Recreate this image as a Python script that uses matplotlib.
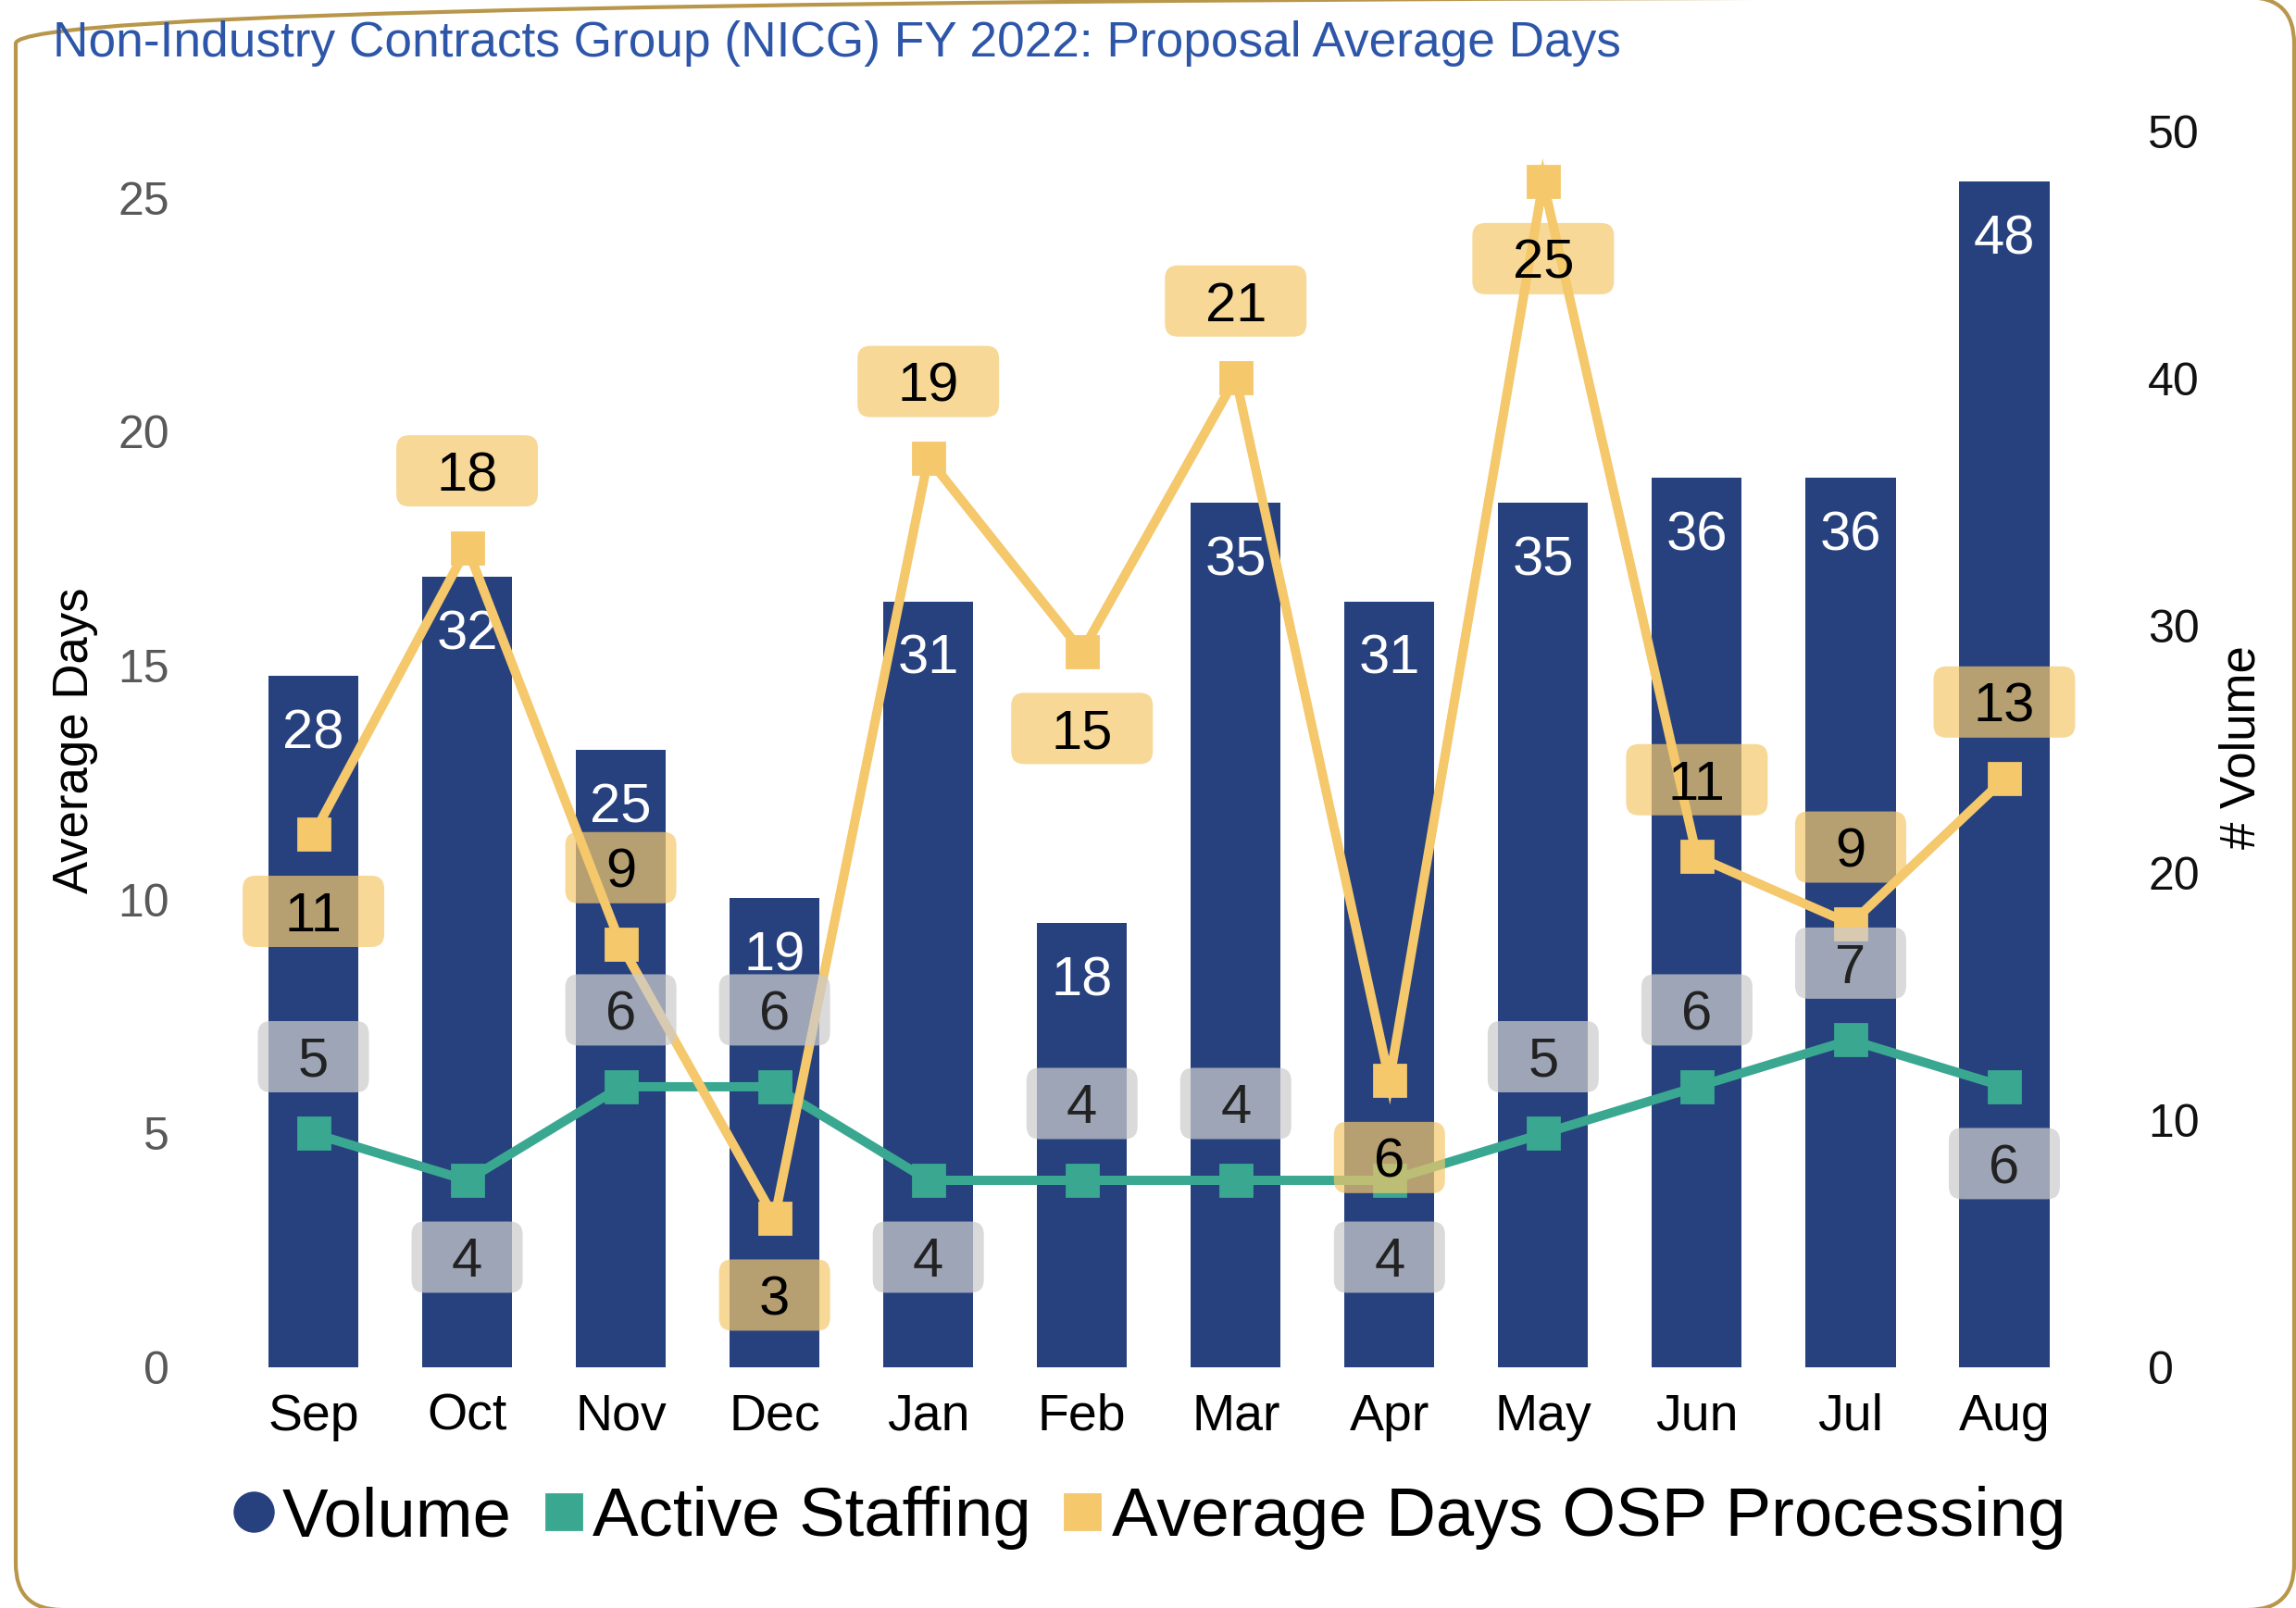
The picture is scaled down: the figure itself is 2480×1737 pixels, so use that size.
import matplotlib
matplotlib.use("Agg")
import matplotlib.pyplot as plt
from matplotlib.patches import FancyBboxPatch
from matplotlib.lines import Line2D
from matplotlib.transforms import ScaledTranslation

# ---------------- data ----------------
months = ["Sep", "Oct", "Nov", "Dec", "Jan", "Feb", "Mar", "Apr", "May", "Jun", "Jul", "Aug"]
volume = [28, 32, 25, 19, 31, 18, 35, 31, 35, 36, 36, 48]
active_staffing = [5, 4, 6, 6, 4, 4, 4, 4, 5, 6, 7, 6]
avg_days_osp = [11.39, 17.52, 9.04, 3.19, 19.43, 15.30, 21.15, 6.13, 25.34, 10.92, 9.48, 12.58]
left_ticks = [0, 5, 10, 15, 20, 25]
right_ticks = [0, 10, 20, 30, 40, 50]

# label placement (style)
osp_pos = ["below", "above", "above", "below", "above", "below", "above", "below", "below", "above", "above", "above"]
staff_pos = ["above", "below", "above", "above", "below", "above", "above", "below", "above", "above", "above", "below"]

# ---------------- style ----------------
NAVY = "#27417e"
TEAL = "#3aa891"
ORANGE = "#f4c86b"
GREYBOX = "#cccccc"
TITLE_BLUE = "#2e56a8"
GOLD = "#b8964a"
FONT = "Liberation Sans"
plt.rcParams["font.family"] = [FONT, "DejaVu Sans"]

W, H, DPI = 2480, 1737, 200
fig = plt.figure(figsize=(W / DPI, H / DPI), dpi=DPI)
fig.patch.set_facecolor("white")

# border
px = 1.0 / W
py = 1.0 / H
border = FancyBboxPatch((17 * px, -2 * py), (2478 - 17) * px, (1740 + 2) * py,
                        boxstyle=f"round,pad=0,rounding_size={50 / W}",
                        transform=fig.transFigure, facecolor="none",
                        edgecolor=GOLD, linewidth=1.5, mutation_aspect=W / H)
fig.patches.append(border)

ax_left, ax_right = 255.5 / W, 2248 / W
ax_top, ax_bot = 1 - 142.3 / H, 1 - 1477.2 / H
ax = fig.add_axes([ax_left, ax_bot, ax_right - ax_left, ax_top - ax_bot])
ax2 = ax.twinx()

x = list(range(len(months)))

# bars on the right axis
ax2.bar(x, volume, width=0.585, color=NAVY, zorder=1)
ax2.set_ylim(0, 50)
ax2.set_yticks(right_ticks)

# lines on the left axis
ax.set_zorder(ax2.get_zorder() + 1)
ax.patch.set_visible(False)
ax.plot(x, active_staffing, color=TEAL, lw=3.6, marker="s", ms=12, zorder=3, solid_joinstyle="miter")
ax.plot(x, avg_days_osp, color=ORANGE, lw=3.6, marker="s", ms=12, zorder=4, solid_joinstyle="miter")
ax.set_ylim(0, 26.41)
ax.set_xlim(-0.5, len(months) - 0.5)
ax.set_yticks(left_ticks)
ax.set_xticks(x)
ax.set_xticklabels(months)

for a in (ax, ax2):
    for s in a.spines.values():
        s.set_visible(False)
ax.tick_params(axis="y", length=0, pad=26, labelsize=18, labelcolor="#595959")
ax.tick_params(axis="x", length=0, pad=10, labelsize=20, labelcolor="black")
ax2.tick_params(axis="y", length=0, pad=26, labelsize=18, labelcolor="#111111")

# data labels
LFS = 21.5
OFF_IN = 83 / DPI
BOX_H = 77 / DPI
RAD = 14 / DPI


def box_label(i, v, text, pos, fc, alpha, tcolor):
    w = (120 if len(text) == 1 else 153) / DPI
    off = OFF_IN if pos == "above" else -OFF_IN
    trans = fig.dpi_scale_trans + ScaledTranslation(i, v, ax.transData)
    p = FancyBboxPatch((-w / 2, off - BOX_H / 2), w, BOX_H,
                       boxstyle=f"round,pad=0,rounding_size={RAD}",
                       transform=trans, facecolor=fc, edgecolor="none",
                       alpha=alpha, zorder=6, clip_on=False)
    ax.add_artist(p)
    ax.annotate(text, xy=(i, v), xytext=(0, off * 72 - 0.358 * LFS),
                textcoords="offset points", ha="center", va="baseline",
                fontsize=LFS, color=tcolor, zorder=7)


for i, v in enumerate(active_staffing):
    box_label(i, v, f"{v:.0f}", staff_pos[i], GREYBOX, 0.72, "#222222")
for i, v in enumerate(avg_days_osp):
    box_label(i, v, f"{round(v):d}", osp_pos[i], ORANGE, 0.70, "black")

for i, v in enumerate(volume):
    ax2.annotate(f"{v}", xy=(i, v), xytext=(0, -57 / DPI * 72 - 0.358 * LFS),
                 textcoords="offset points", ha="center", va="baseline",
                 fontsize=LFS, color="white", zorder=2)

# title and axis labels
fig.text(57 / W, 1 - 47 / H, "Non-Industry Contracts Group (NICG) FY 2022: Proposal Average Days",
         ha="left", va="center", fontsize=19.2, color=TITLE_BLUE)
fig.text(81 / W, 1 - 800 / H, "Average Days", rotation=90, ha="center", va="center",
         fontsize=19, color="black")
fig.text(2422 / W, 1 - 807 / H, "# Volume", rotation=90, ha="center", va="center",
         fontsize=19, color="black")

# legend
handles = [
    Line2D([], [], linestyle="none", marker="o", color=NAVY, markersize=15),
    Line2D([], [], linestyle="none", marker="s", color=TEAL, markersize=14),
    Line2D([], [], linestyle="none", marker="s", color=ORANGE, markersize=14),
]
labels = ["Volume", "Active Staffing", "Average Days OSP Processing"]
fig.legend(handles, labels, loc="center", bbox_to_anchor=(0.5005, 1 - 1640 / H), ncol=3,
           frameon=False, fontsize=26.8, handlelength=0.6, handletextpad=0.12,
           columnspacing=0.45, borderaxespad=0)

fig.savefig("out.png", dpi=DPI, facecolor="white")
